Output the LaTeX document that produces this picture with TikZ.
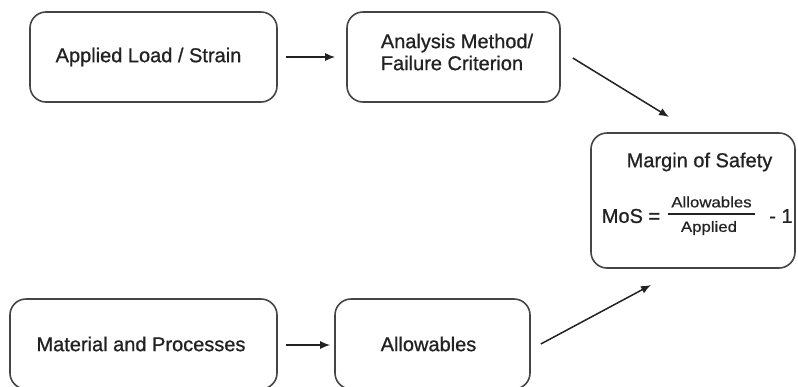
\documentclass[tikz,border=0pt]{standalone}
\usepackage{fontspec}
\setmainfont[FakeBold=0.8]{Liberation Sans}
\newfontfamily\fracfont[FakeStretch=1.12,FakeBold=0.6]{Liberation Sans}
\usetikzlibrary{arrows.meta}
\definecolor{boxline}{HTML}{454545}
\definecolor{txt}{HTML}{222222}
\tikzset{
  box/.style={draw=boxline, line width=1.6pt, rounded corners=16pt, inner sep=0pt, text=txt,
    font=\fontsize{20}{22}\selectfont},
  lbl/.style={inner sep=0pt, text=txt, font=\fontsize{20}{22}\selectfont},
  small/.style={inner sep=0pt, text=txt, font=\fontsize{15}{17}\fracfont},
  arr/.style={draw=txt, line width=1.5pt, -{Latex[length=10pt,width=8pt]}}
}
\begin{document}
\begin{tikzpicture}[x=1pt,y=-1pt]
\useasboundingbox (0,0) rectangle (798,386);
\fill[white] (0,0) rectangle (798,386);
% boxes
\node[box, minimum width=247pt, minimum height=90pt] (A) at (153.5,57) {Applied Load / Strain\hspace*{10pt}};
\node[box, minimum width=213pt, minimum height=90pt] (B) at (453.5,57) {};
\node[lbl, align=left] (Bt) at (457,52) {Analysis Method/\\Failure Criterion};
\node[box, minimum width=204pt, minimum height=135pt] (C) at (693,200.5) {};
\node[lbl] (Ct) at (699.5,162) {Margin of Safety};
\node[lbl] (mos) at (631,216) {MoS =};
\node[small] (num) at (711.5,202) {Allowables};
\node[small] (den) at (709,228) {Applied};
\draw[txt, line width=1.2pt] (668,214) -- (755,214);
\node[lbl] (m1) at (781,216) {- 1};
\node[box, minimum width=267pt, minimum height=90pt] (D) at (143.5,344) {Material and Processes\hspace*{5pt}};
\node[box, minimum width=195pt, minimum height=90pt] (E) at (432.5,344) {Allowables\hspace*{8pt}};
% arrows
\coordinate (c2) at (669,117);
\coordinate (c4) at (651,285);
\draw[arr] ([xshift=8pt]A.east) -- ([xshift=-11pt]B.west);
\draw[arr] ([xshift=12pt,yshift=-1pt]B.east) -- (c2);
\draw[arr] ([xshift=8pt,yshift=-1pt]D.east) -- ([xshift=-4pt,yshift=-1pt]E.west);
\draw[arr] ([xshift=10pt]E.east) -- (c4);
\end{tikzpicture}
\end{document}
